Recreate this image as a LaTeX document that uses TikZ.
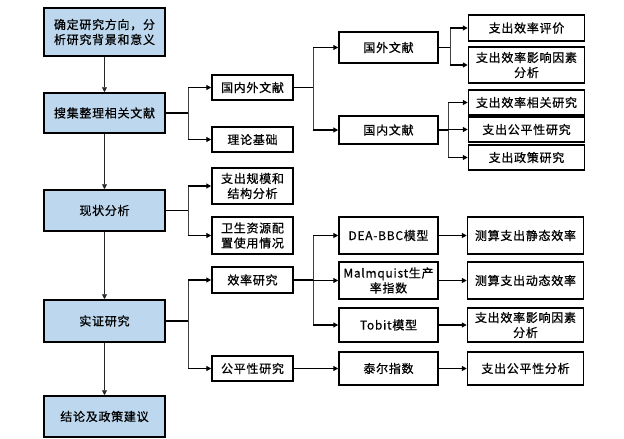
\documentclass[tikz,border=0pt]{standalone}
\usepackage{fontspec}
\setmainfont{Noto Sans CJK SC}[LetterSpace=6,FakeBold=0.6]
\usetikzlibrary{arrows.meta}
\definecolor{mainblue}{HTML}{BDD7EE}
\tikzset{
  bx/.style={draw, line width=1.5pt, align=center, inner sep=1pt, font=\fontsize{12}{15}\selectfont},
  mainbox/.style={bx, fill=mainblue, minimum width=121pt},
  colb/.style={bx, fill=white, minimum width=81pt},
  colc/.style={bx, fill=white, minimum width=99pt},
  cold/.style={bx, fill=white, minimum width=116pt},
  conn/.style={line width=1.3pt, -{Triangle[length=5pt,width=5pt]}},
  plain/.style={line width=1.3pt},
  vline/.style={line width=0.8pt, draw=black!75},
  down/.style={line width=0.9pt, draw=black!85, -{Triangle[length=5pt,width=5pt]}}
}
\begin{document}
\begin{tikzpicture}[x=1pt,y=-1pt]
\useasboundingbox (0,0) rectangle (624,439);
% main column
\node[mainbox, minimum height=48pt] (b1) at (104.5,32) {确定研究方向，分\\析研究背景和意义};
\node[mainbox, minimum height=40pt] (b2) at (104.5,113) {搜集整理相关文献};
\node[mainbox, minimum height=41pt] (b3) at (104.5,210.5) {现状分析};
\node[mainbox, minimum height=42pt] (b4) at (104.5,321) {实证研究};
\node[mainbox, minimum height=41pt] (b5) at (104.5,416.5) {结论及政策建议};
% column 2
\node[colb, minimum height=25pt] (c1) at (252.5,87.5) {国内外文献};
\node[colb, minimum height=25pt] (c2) at (252.5,139.5) {理论基础};
\node[colb, minimum height=36pt] (c3) at (252.5,186) {支出规模和\\结构分析};
\node[colb, minimum height=37pt] (c4) at (252.5,235.5) {卫生资源配\\置使用情况};
\node[colb, minimum height=26pt] (c5) at (252.5,280) {效率研究};
\node[colb, minimum height=25pt] (c6) at (252.5,368.5) {公平性研究};
% column 3
\node[colc, minimum height=31pt] (d1) at (388.5,47.5) {国外文献};
\node[colc, minimum height=28pt] (d2) at (388.5,130) {国内文献};
\node[colc, minimum height=37pt] (d3) at (388.5,235.5) {DEA-BBC模型};
\node[colc, minimum height=37pt] (d4) at (388.5,280.5) {Malmquist生产\\率指数};
\node[colc, minimum height=34pt] (d5) at (388.5,325) {Tobit模型};
\node[colc, minimum height=33pt] (d6) at (388.5,368.5) {泰尔指数};
% column 4
\node[cold, minimum height=26pt] (e1) at (526.5,28) {支出效率评价};
\node[cold, minimum height=36pt] (e2) at (526.5,65) {支出效率影响因素\\分析};
\node[cold, minimum height=25pt] (e3) at (526.5,102.5) {支出效率相关研究};
\node[cold, minimum height=25pt] (e4) at (526.5,129.5) {支出公平性研究};
\node[cold, minimum height=25pt] (e5) at (526.5,157.5) {支出政策研究};
\node[cold, minimum height=37pt] (f1) at (525.5,235.5) {测算支出静态效率};
\node[cold, minimum height=37pt] (f2) at (525.5,280.5) {测算支出动态效率};
\node[cold, minimum height=34pt] (f3) at (525.5,325) {支出效率影响因素\\分析};
\node[cold, minimum height=33pt] (f4) at (525.5,368.5) {支出公平性分析};
% branch x positions
\coordinate (x1) at (188,0);
\coordinate (x2) at (313,0);
\coordinate (x3) at (450,0);
\coordinate (x4) at (448,0);
% main vertical arrows
\draw[down] (b1) -- (b2);
\draw[down] (b2) -- (b3);
\draw[down] (b3) -- (b4);
\draw[down] (b4) -- (b5);
% b2 -> c1, c2
\draw[vline] (c1.west -| x1) -- (c2.west -| x1);
\draw[plain] (b2.east) -- (b2.east -| x1);
\draw[conn] (c1.west -| x1) -- (c1.west);
\draw[conn] (c2.west -| x1) -- (c2.west);
% b3 -> c3, c4
\draw[vline] (c3.west -| x1) -- (c4.west -| x1);
\draw[plain] (b3.east) -- (b3.east -| x1);
\draw[conn] (c3.west -| x1) -- (c3.west);
\draw[conn] (c4.west -| x1) -- (c4.west);
% b4 -> c5, c6
\draw[vline] (c5.west -| x1) -- (c6.west -| x1);
\draw[plain] (b4.east) -- (b4.east -| x1);
\draw[conn] (c5.west -| x1) -- (c5.west);
\draw[conn] (c6.west -| x1) -- (c6.west);
% c1 -> d1, d2
\draw[vline] (d1.west -| x2) -- (d2.west -| x2);
\draw[plain] (c1.east) -- (c1.east -| x2);
\draw[conn] (d1.west -| x2) -- (d1.west);
\draw[conn] (d2.west -| x2) -- (d2.west);
% c5 -> d3, d4, d5
\draw[vline] (d3.west -| x2) -- (d5.west -| x2);
\draw[plain] (c5.east) -- (c5.east -| x2);
\draw[conn] (d3.west -| x2) -- (d3.west);
\draw[conn] (d4.west -| x2) -- (d4.west);
\draw[conn] (d5.west -| x2) -- (d5.west);
% c6 -> d6
\draw[conn] (c6.east) -- (d6.west);
% d1 -> e1, e2
\draw[vline] (e1.west -| x3) -- (e2.west -| x3);
\draw[plain] (d1.east) -- (d1.east -| x3);
\draw[conn] (e1.west -| x3) -- (e1.west);
\draw[conn] (e2.west -| x3) -- (e2.west);
% d2 -> e3, e4, e5
\draw[vline] (e3.west -| x4) -- (e5.west -| x4);
\draw[plain] (d2.east) -- (d2.east -| x4);
\draw[conn] (e3.west -| x4) -- (e3.west);
\draw[conn] (e4.west -| x4) -- (e4.west);
\draw[conn] (e5.west -| x4) -- (e5.west);
% d -> f
\draw[conn] (d3.east) -- (f1.west);
\draw[conn] (d4.east) -- (f2.west);
\draw[conn] (d5.east) -- (f3.west);
\draw[conn] (d6.east) -- (f4.west);
\end{tikzpicture}
\end{document}
